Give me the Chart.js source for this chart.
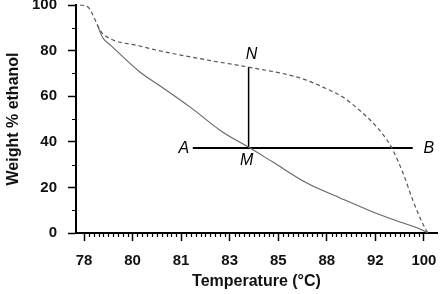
<!DOCTYPE html>
<html>
<head>
<meta charset="utf-8">
<script src="https://cdn.jsdelivr.net/npm/chart.js@4"></script>
<style>
  html, body { margin: 0; padding: 0; background: #fff; }
  #wrap { width: 442px; height: 294px; }
</style>
</head>
<body>
<div id="wrap"><canvas id="chart"></canvas></div>
<script>
// tick labels on the temperature axis (evenly spaced, so x is a position index)
const tempLabels = ['78', '80', '81', '83', '85', '88', '92', '100'];
const weightTicks = [0, 20, 40, 60, 80, 100];

// liquid curve (solid)
const liquidPos = [0.27, 0.39, 0.54, 1.15, 1.56, 2.18, 2.86, 3.42, 3.89, 4.59, 5.27, 5.95, 6.51, 6.92, 7.08];
const liquidWt  = [91.5, 85.5, 82.5, 70.6, 64.6, 55.3, 44.2, 37.3, 31.1, 21.9, 15.4, 9.2, 4.8, 1.8, 0];

// vapour curve (dashed)
const vaporPos = [-0.08, 0.08, 0.33, 0.39, 1.15, 2.53, 3.38, 4.45, 4.92, 5.33, 5.74, 6.03, 6.24, 6.34, 6.57, 6.77, 6.96, 7.08];
const vaporWt  = [100, 99.1, 89, 87.3, 82, 75.9, 72.8, 68, 64, 59.6, 52.6, 46.5, 40.8, 37.3, 26.3, 14.5, 4.8, 0];

// tie line A-B and the vertical M-N
const tiePos = [2.24, 6.77];
const tieWt = 37.3;
const mnPos = 3.39;
const mnWt = [37.3, 72.8];

const pts = (xs, ys) => xs.map((x, i) => ({ x: x, y: Array.isArray(ys) ? ys[i] : ys }));

const FONT = "'Liberation Sans', Arial, Helvetica, sans-serif";

// drop the automatic label padding so the plot box lands where the reference has it
const noPad = (scale) => {
  scale.paddingTop = 0; scale.paddingBottom = 0;
  scale.paddingLeft = 0; scale.paddingRight = 0;
};

// minor ticks + A/B/M/N letters
const extras = {
  id: 'extras',
  afterDraw(chart) {
    const ctx = chart.ctx;
    const xs = chart.scales.x, ys = chart.scales.y;
    const bottom = chart.chartArea.bottom, left = chart.chartArea.left;
    ctx.save();
    ctx.strokeStyle = '#000';
    ctx.lineWidth = 1.2;
    ctx.beginPath();
    for (let i = 0; i < tempLabels.length - 1; i++) {
      for (let k = 1; k < 10; k++) {
        const px = Math.round(xs.getPixelForValue(i + k / 10)) + 0.5;
        ctx.moveTo(px, bottom);
        ctx.lineTo(px, bottom + 4);
      }
    }
    for (let i = 0; i < weightTicks.length - 1; i++) {
      const py = Math.round(ys.getPixelForValue((weightTicks[i] + weightTicks[i + 1]) / 2)) + 0.5;
      ctx.moveTo(left - 4, py);
      ctx.lineTo(left, py);
    }
    ctx.stroke();

    ctx.fillStyle = '#000';
    ctx.font = 'italic 16px ' + FONT;
    ctx.textAlign = 'center';
    ctx.textBaseline = 'middle';
    const yt = ys.getPixelForValue(tieWt);
    ctx.fillText('A', xs.getPixelForValue(tiePos[0]) - 9, yt + 1);
    ctx.fillText('B', xs.getPixelForValue(tiePos[1]) + 16, yt + 1);
    ctx.fillText('M', xs.getPixelForValue(mnPos) - 2, yt + 13);
    ctx.fillText('N', xs.getPixelForValue(mnPos) + 3, ys.getPixelForValue(mnWt[1]) - 12);
    ctx.restore();
  }
};

new Chart(document.getElementById('chart'), {
  type: 'scatter',
  data: {
    datasets: [
      {
        data: pts(vaporPos, vaporWt),
        showLine: true,
        borderColor: '#555',
        borderWidth: 1.2,
        borderDash: [4, 3],
        pointRadius: 0,
        cubicInterpolationMode: 'monotone',
        clip: 6
      },
      {
        data: pts(liquidPos, liquidWt),
        showLine: true,
        borderColor: '#666',
        borderWidth: 1.1,
        pointRadius: 0,
        cubicInterpolationMode: 'monotone',
        clip: 6
      },
      {
        data: pts(tiePos, tieWt),
        showLine: true,
        borderColor: '#000',
        borderWidth: 2,
        pointRadius: 0
      },
      {
        data: pts([mnPos, mnPos], mnWt),
        showLine: true,
        borderColor: '#000',
        borderWidth: 1.5,
        pointRadius: 0
      }
    ]
  },
  options: {
    responsive: true,
    maintainAspectRatio: false,
    animation: false,
    layout: { padding: { top: 5, right: 5, left: 0, bottom: 0 } },
    plugins: { legend: { display: false }, tooltip: { enabled: false } },
    scales: {
      x: {
        type: 'linear',
        min: -0.165,
        max: 7.27,
        afterBuildTicks: (scale) => { scale.ticks = tempLabels.map((_, i) => ({ value: i })); },
        afterFit: (scale) => { scale.height = 61; noPad(scale); },
        ticks: {
          callback: (v) => tempLabels[v],
          color: '#111',
          font: { family: FONT, size: 15, weight: 'bold' },
          padding: 11,
          maxRotation: 0
        },
        grid: { drawOnChartArea: false, tickLength: 8, tickColor: '#000', tickWidth: 1.5 },
        border: { color: '#000', width: 2 },
        title: {
          display: true,
          text: 'Temperature (°C)',
          color: '#111',
          font: { family: FONT, size: 16, weight: 'bold' },
          padding: { top: 0, bottom: 3 }
        }
      },
      y: {
        min: 0,
        max: 100,
        afterBuildTicks: (scale) => { scale.ticks = weightTicks.map((v) => ({ value: v })); },
        afterFit: (scale) => { scale.width = 76; noPad(scale); },
        ticks: {
          color: '#111',
          font: { family: FONT, size: 15, weight: 'bold' },
          padding: 11
        },
        grid: { drawOnChartArea: false, tickLength: 8, tickColor: '#000', tickWidth: 1.5 },
        border: { color: '#000', width: 2 },
        title: {
          display: true,
          text: 'Weight % ethanol',
          color: '#111',
          font: { family: FONT, size: 16, weight: 'bold' },
          padding: { top: 4, bottom: 0 }
        }
      }
    }
  },
  plugins: [extras]
});
</script>
</body>
</html>
